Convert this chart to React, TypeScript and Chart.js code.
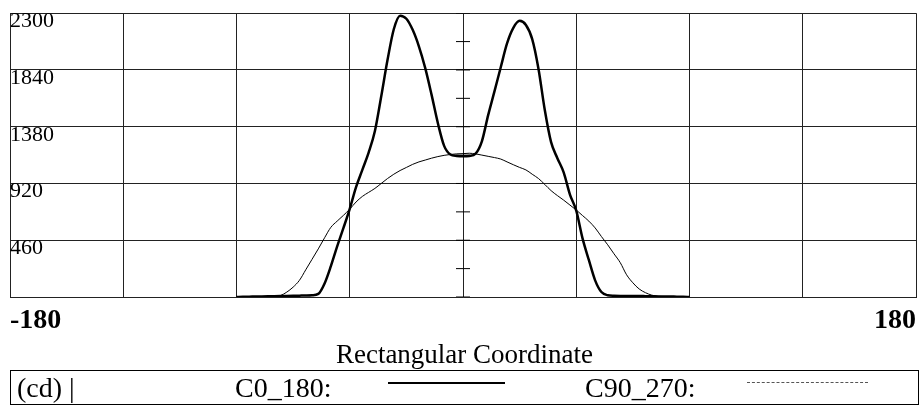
import React, { useEffect, useRef } from 'react';
import { Chart, registerables } from 'chart.js';

Chart.register(...registerables);

const angles = [
  -90, -87.5, -85, -82.5, -80, -77.5, -75, -72.5, -70, -67.5, -65, -62.5, -60, -57.5, -55, -52.5,
  -50, -47.5, -45, -42.5, -40, -37.5, -35, -32.5, -30, -27.5, -25, -22.5, -20, -17.5, -15, -12.5,
  -10, -7.5, -5, -2.5, 0, 2.5, 5, 7.5, 10, 12.5, 15, 17.5, 20, 22.5, 25, 27.5,
  30, 32.5, 35, 37.5, 40, 42.5, 45, 47.5, 50, 52.5, 55, 57.5, 60, 62.5,
  65, 67.5, 70, 72.5, 75, 77.5, 80, 82.5, 85, 87.5, 90,
];

const c0_180 = [
  0, 2, 3, 4, 5, 6, 7, 8, 9, 10, 11, 12, 14, 25, 110, 250,
  410, 560, 715, 890, 1030, 1170, 1345, 1625, 1920, 2170, 2280, 2255, 2165, 2030, 1855, 1640,
  1410, 1225, 1155, 1143, 1140, 1143, 1162, 1262, 1474, 1666, 1862, 2055, 2181, 2238, 2205, 2090,
  1848, 1515, 1255, 1125, 1010, 830, 700, 475, 300, 135, 40, 14, 10, 9,
  9, 8, 8, 7, 6, 5, 5, 4, 3, 2, 0,
];

const c90_270 = [
  0, 1, 2, 2, 3, 4, 5, 12, 40, 80, 135, 220, 305, 390, 480, 565,
  615, 662, 712, 770, 815, 848, 880, 920, 960, 995, 1025, 1050, 1075, 1095, 1110, 1125,
  1138, 1148, 1155, 1160, 1162, 1165, 1160, 1150, 1140, 1130, 1118, 1095, 1072, 1050, 1030, 995,
  960, 912, 862, 822, 785, 745, 705, 660, 615, 560, 490, 423, 350, 278,
  180, 115, 65, 35, 15, 6, 4, 3, 2, 1, 0,
];

const yTicks = [0, 460, 920, 1380, 1840, 2300];
const minorTicks = [0, 230, 460, 690, 920, 1150, 1380, 1610, 1840, 2070, 2300];
const xMin = -180;
const xMax = 180;
const xStep = 45;

const SERIF = "'Liberation Serif', 'Times New Roman', serif";

export default function App() {
  const ref = useRef<HTMLCanvasElement | null>(null);

  useEffect(() => {
    if (!ref.current) return;
    const chart = new Chart(ref.current, {
      type: 'line',
      data: {
        datasets: [
          {
            label: 'C0_180',
            data: angles.map((a, i) => ({ x: a, y: c0_180[i] })),
            borderColor: '#000',
            borderWidth: 2.5,
            pointRadius: 0,
            cubicInterpolationMode: 'monotone',
            fill: false,
          },
          {
            label: 'C90_270',
            data: angles.map((a, i) => ({ x: a, y: c90_270[i] })),
            borderColor: '#000',
            borderWidth: 1,
            pointRadius: 0,
            cubicInterpolationMode: 'monotone',
            fill: false,
          },
          {
            label: 'ticks',
            data: minorTicks.map((v) => ({ x: 0, y: v })),
            showLine: false,
            pointStyle: 'line',
            pointRadius: 7,
            pointBorderWidth: 1,
            pointBorderColor: '#000',
            borderColor: '#000',
          },
        ],
      },
      options: {
        responsive: false,
        animation: false,
        devicePixelRatio: 1,
        layout: { autoPadding: false, padding: { left: 10, right: 4, top: 7, bottom: 0 } },
        plugins: { legend: { display: false }, tooltip: { enabled: false } },
        scales: {
          x: {
            type: 'linear',
            min: xMin,
            max: xMax,
            afterFit: (s: any) => {
              s.height = 43;
            },
            afterBuildTicks: (s: any) => {
              const t = [];
              for (let v = xMin; v <= xMax; v += xStep) t.push({ value: v });
              s.ticks = t;
            },
            grid: { color: '#222', lineWidth: 1, drawTicks: false },
            border: { color: '#222' },
            ticks: {
              autoSkip: false,
              maxRotation: 0,
              align: 'inner',
              padding: 7,
              color: '#000',
              font: { family: SERIF, size: 28, weight: 'bold' },
              callback: (v: any) => (v === xMin || v === xMax ? String(v) : ''),
            },
          },
          y: {
            min: 0,
            max: 2300,
            afterFit: (s: any) => {
              s.width = 0;
            },
            afterBuildTicks: (s: any) => {
              s.ticks = yTicks.map((v) => ({ value: v }));
            },
            grid: { color: '#222', lineWidth: 1, drawTicks: false },
            border: { color: '#222' },
            ticks: {
              mirror: true,
              padding: 0,
              labelOffset: 8,
              color: '#000',
              font: { family: SERIF, size: 22 },
              callback: (v: any) => (v === 0 ? '' : String(v)),
            },
          },
        },
      },
    });
    return () => chart.destroy();
  }, []);

  return (
    <div
      style={{
        position: 'fixed',
        left: 0,
        top: 0,
        width: 923,
        height: 407,
        background: '#fff',
        fontFamily: SERIF,
        color: '#000',
      }}
    >
      <canvas ref={ref} width={923} height={340} style={{ position: 'absolute', left: 0, top: 0 }} />
      <div
        style={{
          position: 'absolute',
          left: 10,
          width: 909,
          top: 339,
          height: 30,
          lineHeight: '30px',
          textAlign: 'center',
          fontSize: 27,
          whiteSpace: 'nowrap',
        }}
      >
        Rectangular Coordinate
      </div>
      <div
        style={{
          position: 'absolute',
          left: 10,
          top: 370,
          width: 909,
          height: 35,
          border: '1px solid #000',
          boxSizing: 'border-box',
          fontSize: 28,
          lineHeight: '33px',
          whiteSpace: 'nowrap',
        }}
      >
        <span style={{ position: 'absolute', left: 6, top: 0 }}>(cd) |</span>
        <span style={{ position: 'absolute', left: 224, top: 0 }}>C0_180:</span>
        <div style={{ position: 'absolute', left: 377, top: 11, width: 117, height: 0, borderTop: '2px solid #000' }} />
        <span style={{ position: 'absolute', left: 574, top: 0 }}>C90_270:</span>
        <div style={{ position: 'absolute', left: 736, top: 11, width: 121, height: 0, borderTop: '1px dashed #555' }} />
      </div>
    </div>
  );
}
